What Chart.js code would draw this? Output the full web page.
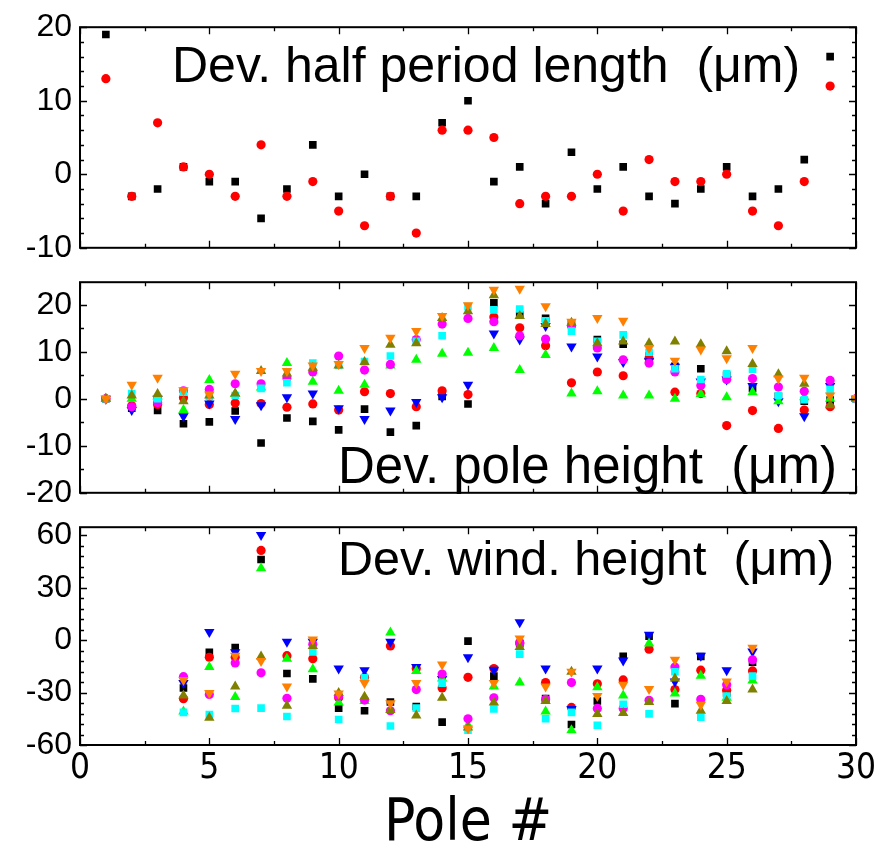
<!DOCTYPE html>
<html>
<head>
<meta charset="utf-8">
<script src="https://cdn.jsdelivr.net/npm/chart.js@4.4.1/dist/chart.umd.min.js"></script>
<style>
  html, body { margin: 0; padding: 0; background: #fff; overflow: hidden; width: 890px; height: 848px; }
  canvas.panel { position: absolute; left: 0; }
</style>
</head>
<body>
<canvas id="cHalf" class="panel" style="top:0px" width="890" height="275"></canvas>
<canvas id="cPole" class="panel" style="top:255px" width="890" height="265"></canvas>
<canvas id="cWind" class="panel" style="top:500px" width="890" height="380"></canvas>
<script>
// ── Data: half period length deviation (poles 1-29) ──────────────────────────
const halfPoles = [1,2,3,4,5,6,7,8,9,10,11,12,13,14,15,16,17,18,19,20,21,22,23,24,25,26,27,28,29];
const halfBlack = [19,-3,-2,1,-1,-1,-6,-2,4,-3,0,-3,-3,7,10,-1,1,-4,3,-2,1,-3,-4,-2,1,-3,-2,2,16];
const halfRed   = [13,-3,7,1,0,-3,4,-3,-1,-5,-7,-3,-8,6,6,5,-4,-3,-3,0,-5,2,-1,-1,0,-5,-7,-1,12];

// ── Data: pole height deviation (poles 1-30) ──────────────────────────────────
const polePoles = [1,2,3,4,5,6,7,8,9,10,11,12,13,14,15,16,17,18,19,20,21,22,23,24,25,26,27,28,29,30];
const poleBlack   = [0,-2.0,-2.5,-5.3,-4.9,-2.6,-9.4,-4.1,-4.8,-6.6,-2.2,-7.1,-5.7,0.5,-1.1,20.4,17.8,17.1,15.9,12.6,11.6,9.1,6.9,6.4,5.0,2.2,0.5,-0.5,-0.3,0];
const poleRed     = [0,-1.5,-1.2,0.2,-1.2,-0.9,-1.0,-1.8,-1.1,-2.4,1.5,1.1,-1.7,1.7,0.9,17.4,15.1,11.3,3.4,5.7,4.9,8.6,1.4,1.1,-5.7,-2.5,-6.3,-2.4,-1.7,0];
const poleBlue    = [0,-2.4,0,-3.7,-1.0,-4.3,-1.4,0.3,1.1,-2.0,-4.3,-2.5,-0.7,0.3,3.0,13.9,12.6,15.5,11.1,9.0,7.8,8.0,6.8,3.7,4.1,2.7,-0.5,-3.7,2.7,0];
const poleGreen   = [0,0,0.5,-2.4,4.0,1.0,2.4,7.6,3.6,1.7,3.0,7.1,8.3,9.6,9.8,10.8,6.1,9.3,1.1,1.6,0.7,0.7,0,1.0,0.3,1.4,-0.5,0.3,0,0];
const poleMagenta = [0,-1.7,-0.8,1.7,2.0,3.2,3.2,4.4,5.7,9.1,6.1,7.3,12.6,15.9,17.1,16.4,13.4,12.7,15.5,10.8,8.3,7.6,5.7,2.8,4.1,4.3,2.5,1.6,3.9,0];
const poleCyan    = [0,1.1,0,1.4,0.5,0.7,2.2,3.4,7.6,7.1,7.9,9.1,12.2,13.4,19.6,18.9,19.1,16.6,14.4,12.2,13.6,9.9,6.4,4.1,5.3,6.3,0.7,-0.2,2.0,0];
const poleOlive   = [0,0.7,1.0,-0.5,0.7,1.1,5.9,5.4,6.6,7.1,7.8,11.5,11.8,17.2,18.6,22.0,17.6,15.9,16.2,11.8,12.2,11.8,12.2,11.6,10.1,7.4,5.2,3.2,-1.4,0];
const poleOrange  = [0,3.0,4.5,1.8,0.9,5.3,5.9,5.9,7.1,7.4,10.8,13.0,14.4,17.6,19.9,23.2,23.4,19.7,16.4,17.2,16.6,10.8,8.1,10.5,8.6,10.8,4.3,4.5,0.7,0];

// ── Data: winding height deviation (poles 4-26) ──────────────────────────────
const windPoles = [4,5,6,7,8,9,10,11,12,13,14,15,16,17,18,19,20,21,22,23,24,25,26];
const windBlack   = [-27.4,-7.0,-4.3,46.1,-19.1,-22.2,-38.9,-40.4,-35.4,-38.0,-46.9,-0.6,-20.6,-2.0,-33.5,-48.3,-34.8,-9.3,2.2,-36.3,-9.4,-30.2,-12.6];
const windRed     = [-33.5,-9.8,-9.8,51.3,-8.9,-10.7,-33.0,-21.3,-3.3,-16.3,-27.4,-21.3,-16.3,-1.5,-24.3,-38.5,-25.0,-22.8,-5.2,-28.3,-17.2,-28.7,-17.6];
const windBlue    = [-24.6,4.6,-7.0,60.2,-0.9,-1.0,-16.3,-17.2,-0.9,-15.4,-22.2,-9.8,-16.9,10.2,-16.3,-39.4,-16.3,-11.7,3.1,-23.7,-8.9,-17.2,-6.5];
const windGreen   = [-40.9,-15.4,-32.6,41.1,-10.7,-16.7,-35.7,-34.8,4.4,-17.6,-22.0,-48.7,-26.5,-24.3,-40.9,-51.5,-26.9,-31.7,-2.0,-30.6,-20.4,-33.0,-23.1];
const windMagenta = [-20.9,-31.1,-13.1,-18.7,-33.3,-2.4,-32.0,-34.3,-40.4,-28.3,-19.4,-45.0,-33.0,-2.0,-33.9,-24.3,-39.1,-39.1,-34.4,-15.4,-33.9,-25.6,-11.3];
const windCyan    = [-41.3,-42.6,-39.1,-38.9,-43.7,-6.7,-45.4,-21.5,-49.1,-38.9,-24.6,-51.5,-39.4,-8.0,-45.0,-41.3,-48.7,-36.7,-42.2,-18.1,-44.1,-32.0,-20.6];
const windOlive   = [-31.7,-44.4,-26.5,-9.4,-37.6,-3.3,-30.2,-32.4,-40.0,-43.1,-33.0,-50.0,-35.7,-3.9,-34.8,-18.1,-42.2,-41.7,-35.4,-21.9,-40.4,-34.8,-28.3];
const windOrange  = [-22.8,-30.2,-8.9,-12.0,-26.5,0.4,-30.6,-24.6,-36.1,-24.6,-13.9,-50.6,-24.6,0.9,-26.5,-18.1,-32.0,-25.6,-28.0,-11.3,-37.0,-23.7,-4.3];

const panelLabels = ['Dev. half period length  (\u03bcm)', 'Dev. pole height  (\u03bcm)', 'Dev. wind. height  (\u03bcm)'];

// ── Styles ───────────────────────────────────────────────────────────────────
const SERIES_STYLE = {
  black:   { color: '#000000', shape: 'rect',     rot: 0,   r: 5.4 },
  red:     { color: '#ff0000', shape: 'circle',   rot: 0,   r: 4.6 },
  blue:    { color: '#0000ff', shape: 'triangle', rot: 180, r: 6 },
  green:   { color: '#00ff00', shape: 'triangle', rot: 0,   r: 6 },
  magenta: { color: '#ff00ff', shape: 'circle',   rot: 0,   r: 4.6 },
  cyan:    { color: '#00ffff', shape: 'rect',     rot: 0,   r: 5.4 },
  olive:   { color: '#808000', shape: 'triangle', rot: 0,   r: 6 },
  orange:  { color: '#ff8000', shape: 'triangle', rot: 180, r: 6 },
};

function ds(name, xs, ys) {
  const s = SERIES_STYLE[name];
  return {
    label: name,
    data: xs.map((x, i) => ({ x, y: ys[i] })),
    showLine: false,
    pointStyle: s.shape,
    rotation: s.rot,
    pointRadius: s.r,
    pointHoverRadius: s.r,
    backgroundColor: s.color,
    borderColor: s.color,
    borderWidth: 0,
  };
}

const FONT = '"Liberation Sans", Arial, sans-serif';
const NARROW = '"Liberation Sans Narrow", "Arial Narrow", "DejaVu Sans Condensed", "Liberation Sans", Arial, sans-serif';

// ── Frame, inward ticks and the panel caption ───────────────────────────────
const framePlugin = {
  id: 'frame',
  afterDraw(chart, _args, o) {
    const { ctx, chartArea: a, scales: { x, y } } = chart;
    ctx.save();
    ctx.strokeStyle = '#000';
    ctx.lineWidth = 1.3;
    ctx.beginPath();
    for (let v = 0; v <= 30; v += 2.5) {
      const px = Math.round(x.getPixelForValue(v)) + 0.5;
      const len = v % 5 === 0 ? 7 : 4;
      ctx.moveTo(px, a.bottom); ctx.lineTo(px, a.bottom - len);
      ctx.moveTo(px, a.top);    ctx.lineTo(px, a.top + len);
    }
    for (let v = o.yFrom; v <= o.yTo + 1e-6; v += o.yMinor) {
      const py = Math.round(y.getPixelForValue(v)) + 0.5;
      const len = Math.abs(v % o.yMajor) < 1e-6 ? 7 : 4;
      ctx.moveTo(a.left, py);  ctx.lineTo(a.left + len, py);
      ctx.moveTo(a.right, py); ctx.lineTo(a.right - len, py);
    }
    ctx.stroke();
    ctx.lineWidth = 2;
    ctx.strokeRect(a.left, a.top, a.right - a.left, a.bottom - a.top);
    ctx.fillStyle = '#000';
    ctx.font = o.labelSize + 'px ' + FONT;
    ctx.textBaseline = 'alphabetic';
    ctx.fillText(o.label, o.labelX, o.labelY);
    ctx.restore();
  }
};

function makePanel(id, cfg) {
  return new Chart(document.getElementById(id), {
    type: 'scatter',
    data: { datasets: cfg.datasets },
    options: {
      responsive: false,
      animation: false,
      events: [],
      layout: { padding: cfg.padding },
      plugins: {
        legend: { display: false },
        tooltip: { enabled: false },
        frame: cfg.frame,
      },
      scales: {
        x: cfg.x,
        y: {
          type: 'linear',
          min: cfg.yMin, max: cfg.yMax,
          grid: { display: false, drawTicks: false },
          border: { display: false },
          afterFit: s => { s.width = 80; },
          afterBuildTicks: s => { s.ticks = s.ticks.filter(t => Math.abs(t.value % cfg.yStep) < 1e-6); },
          ticks: {
            stepSize: cfg.yStep,
            includeBounds: false,
            padding: 8,
            color: '#000',
            font: { family: FONT, size: 32 },
          },
        },
      },
    },
    plugins: [framePlugin],
  });
}

const hiddenX = { type: 'linear', min: 0, max: 30, display: false };

// top: half period length
makePanel('cHalf', {
  datasets: [ds('red', halfPoles, halfRed), ds('black', halfPoles, halfBlack)],
  padding: { top: 25.7, bottom: 25, left: 0, right: 34 },
  x: hiddenX,
  yMin: -10, yMax: 20, yStep: 10,
  frame: { yFrom: -10, yTo: 20, yMinor: 2, yMajor: 10, label: panelLabels[0], labelSize: 50, labelX: 172, labelY: 82 },
});

// middle: pole height
makePanel('cPole', {
  datasets: [
    ds('orange', polePoles, poleOrange), ds('olive', polePoles, poleOlive),
    ds('cyan', polePoles, poleCyan), ds('magenta', polePoles, poleMagenta),
    ds('green', polePoles, poleGreen), ds('blue', polePoles, poleBlue),
    ds('red', polePoles, poleRed), ds('black', polePoles, poleBlack),
  ],
  padding: { top: 19, bottom: 21.7, left: 0, right: 34 },
  x: hiddenX,
  yMin: -20, yMax: 24.8, yStep: 10,
  frame: { yFrom: -20, yTo: 20, yMinor: 5, yMajor: 10, label: panelLabels[1], labelSize: 51, labelX: 338, labelY: 228 },
});

// bottom: winding height, carries the shared x axis
makePanel('cWind', {
  datasets: [
    ds('orange', windPoles, windOrange), ds('olive', windPoles, windOlive),
    ds('cyan', windPoles, windCyan), ds('magenta', windPoles, windMagenta),
    ds('green', windPoles, windGreen), ds('blue', windPoles, windBlue),
    ds('red', windPoles, windRed), ds('black', windPoles, windBlack),
  ],
  padding: { top: 20.7, bottom: 0, left: 0, right: 34 },
  x: {
    type: 'linear', min: 0, max: 30,
    grid: { display: false, drawTicks: false },
    border: { display: false },
    afterFit: s => { s.height = 135; },
    ticks: { stepSize: 5, padding: 3, color: '#000', maxRotation: 0, font: { family: NARROW, size: 35 } },
    title: {
      display: true, text: 'Pole #', color: '#000',
      font: { family: NARROW, size: 58, lineHeight: 1.2 },
      padding: { top: 0, bottom: 20 },
    },
  },
  yMin: -60, yMax: 64.6, yStep: 30,
  frame: { yFrom: -60, yTo: 60, yMinor: 6, yMajor: 30, label: panelLabels[2], labelSize: 48.5, labelX: 338, labelY: 75 },
});
</script>
</body>
</html>
